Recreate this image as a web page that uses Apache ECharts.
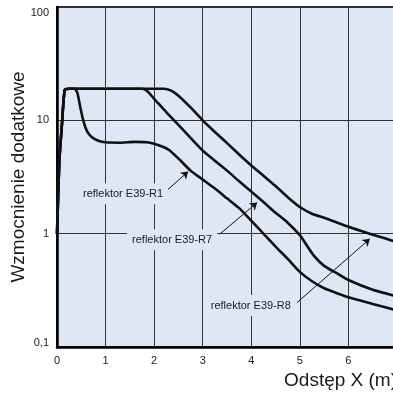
<!DOCTYPE html>
<html>
<head>
<meta charset="utf-8">
<script src="https://cdn.jsdelivr.net/npm/echarts@6/dist/echarts.min.js"></script>
<style>
  html, body { margin: 0; padding: 0; background: #ffffff; }
  #chart { width: 393px; height: 396px; }
</style>
</head>
<body>
<div id="chart"></div>
<script>
// Gain curves of the three reflectors versus spacing X (m)
const distR1 = [0, 0.02, 0.05, 0.1, 0.16, 0.25, 0.36, 0.42, 0.48, 0.54, 0.62, 0.72, 0.85, 1.0, 1.3, 1.6, 1.85, 2.0, 2.15, 2.3, 2.5, 2.75, 3.0, 3.25, 3.5, 3.75, 4.0, 4.25, 4.5, 4.75, 5.0, 5.25, 5.5, 5.75, 6.0, 6.5, 7.0];
const gainR1 = [1, 1.9, 4.5, 9, 18.6, 19, 19, 17.5, 13, 10, 8.0, 7.1, 6.6, 6.4, 6.35, 6.45, 6.4, 6.2, 5.9, 5.5, 4.6, 3.6, 3.0, 2.5, 2.05, 1.68, 1.3, 1.0, 0.77, 0.6, 0.46, 0.38, 0.33, 0.3, 0.275, 0.24, 0.21];

const distR7 = [0, 0.02, 0.05, 0.1, 0.16, 0.25, 1.75, 1.85, 2.0, 2.25, 2.5, 2.75, 3.0, 3.25, 3.5, 3.75, 4.0, 4.25, 4.5, 4.75, 5.0, 5.15, 5.3, 5.5, 5.75, 6.0, 6.5, 7.0];
const gainR7 = [1, 1.9, 4.5, 9, 18.6, 19, 19, 18.2, 15.5, 11.8, 9.1, 7.0, 5.4, 4.4, 3.6, 2.9, 2.35, 1.9, 1.53, 1.25, 0.97, 0.78, 0.63, 0.52, 0.45, 0.39, 0.32, 0.28];

const distR8 = [0, 0.02, 0.05, 0.1, 0.16, 0.25, 2.2, 2.35, 2.5, 2.75, 3.0, 3.25, 3.5, 3.75, 4.0, 4.25, 4.5, 4.75, 5.0, 5.25, 5.5, 5.75, 6.0, 6.25, 6.5, 6.75, 7.0];
const gainR8 = [1, 1.9, 4.5, 9, 18.6, 19, 19, 18.3, 16.5, 13, 10, 7.9, 6.3, 5.0, 4.0, 3.25, 2.63, 2.1, 1.72, 1.5, 1.38, 1.26, 1.15, 1.06, 0.98, 0.91, 0.84];

// Axis ticks and their printed labels
const xTickValues = [0, 1, 2, 3, 4, 5, 6, 7];
const xTickLabels = ['0', '1', '2', '3', '4', '5', '6', '7'];
const yTickValues = [0.1, 1, 10, 100];
const yTickLabels = ['0,1', '1', '10', '100'];

// Callout texts
const calloutNames = ['reflektor E39-R1', 'reflektor E39-R7', 'reflektor E39-R8'];

// Callout placement (data coordinates): text anchor and arrow start/end
const calloutAnchor = [[1.36, 2.25], [2.37, 0.885], [3.99, 0.232]];
const arrowFrom = [[2.26, 2.40], [3.35, 0.99], [4.94, 0.246]];
const arrowTo = [[2.70, 3.53], [4.12, 1.88], [6.44, 0.90]];

const FONT = '"Liberation Sans", Arial, Helvetica, sans-serif';
const PLOT_BG = '#dfe6f4';
const INK = '#111111';

function pairs(xs, ys) { return xs.map((x, i) => [x, ys[i]]); }

function curve(name, xs, ys) {
  return {
    name: name,
    type: 'line',
    data: pairs(xs, ys),
    showSymbol: false,
    smooth: 0.2,
    clip: true,
    lineStyle: { color: INK, width: 2.6 },
    z: 3
  };
}

const chart = echarts.init(document.getElementById('chart'), null, { renderer: 'canvas' });

chart.setOption({
  animation: false,
  backgroundColor: '#ffffff',
  textStyle: { fontFamily: FONT },
  grid: {
    left: 57, top: 7, width: 340, height: 340,
    outerBoundsMode: 'none',
    containLabel: false,
    show: true,
    backgroundColor: PLOT_BG,
    borderColor: '#2a2a2a',
    borderWidth: 2
  },
  xAxis: {
    type: 'value',
    min: 0, max: 7, interval: 1,
    name: 'Odstęp X (m)',
    nameLocation: 'end',
    nameGap: 0,
    nameMoveOverlap: false,
    nameTextStyle: {
      fontFamily: FONT, fontSize: 19, color: '#1a1a1a',
      align: 'right', verticalAlign: 'top', padding: [24, 0, 0, 0]
    },
    axisLine: { show: true, onZero: false, lineStyle: { color: '#000', width: 2.5 } },
    axisTick: { show: false },
    splitLine: { show: true, lineStyle: { color: '#333', width: 1 } },
    axisLabel: {
      fontFamily: FONT, fontSize: 11, color: '#1a1a1a', margin: 8,
      showMinLabel: true,
      showMaxLabel: true,
      hideOverlap: false,
      formatter: v => {
        const i = xTickValues.findIndex(t => Math.abs(t - v) < 1e-9);
        return i >= 0 ? xTickLabels[i] : '';
      }
    }
  },
  yAxis: {
    type: 'log',
    logBase: 10,
    min: 0.1, max: 100,
    name: 'Wzmocnienie dodatkowe',
    nameLocation: 'middle',
    nameGap: 29,
    nameMoveOverlap: false,
    nameTextStyle: { fontFamily: FONT, fontSize: 19, color: '#1a1a1a' },
    axisLine: { show: true, lineStyle: { color: '#000', width: 2.5 } },
    axisTick: { show: false },
    splitLine: { show: true, lineStyle: { color: '#333', width: 1 } },
    minorSplitLine: { show: false },
    axisLabel: {
      fontFamily: FONT, fontSize: 11, color: '#1a1a1a', margin: 8,
      formatter: v => {
        const i = yTickValues.findIndex(t => Math.abs(Math.log10(t) - Math.log10(v)) < 1e-6);
        if (i < 0) return '';
        if (i === yTickValues.length - 1) return '{top|' + yTickLabels[i] + '}';
        if (i === 0) return '{bot|' + yTickLabels[i] + '}';
        return yTickLabels[i];
      },
      rich: {
        top: { fontFamily: FONT, fontSize: 11, color: '#1a1a1a', padding: [12, 0, 0, 0] },
        bot: { fontFamily: FONT, fontSize: 11, color: '#1a1a1a', padding: [0, 0, 8, 0] }
      }
    }
  },
  series: [
    curve('reflektor E39-R1', distR1, gainR1),
    curve('reflektor E39-R7', distR7, gainR7),
    curve('reflektor E39-R8', distR8, gainR8),
    {
      name: 'callouts',
      type: 'line',
      data: [],
      silent: true,
      z: 4,
      markPoint: {
        symbol: 'rect',
        symbolSize: 1,
        itemStyle: { color: 'rgba(0,0,0,0)' },
        label: {
          show: true,
          position: 'inside',
          fontFamily: FONT,
          fontSize: 11,
          color: '#1a1a1a',
          backgroundColor: PLOT_BG,
          padding: [5, 5, 5, 5],
          formatter: p => p.name
        },
        data: calloutNames.map((n, i) => ({ name: n, coord: calloutAnchor[i] }))
      },
      markLine: {
        silent: true,
        symbol: ['none', 'arrow'],
        symbolSize: 7,
        lineStyle: { color: INK, width: 1, type: 'solid' },
        label: { show: false },
        emphasis: { disabled: true },
        data: arrowFrom.map((a, i) => [{ coord: a }, { coord: arrowTo[i] }])
      }
    }
  ]
});
</script>
</body>
</html>
